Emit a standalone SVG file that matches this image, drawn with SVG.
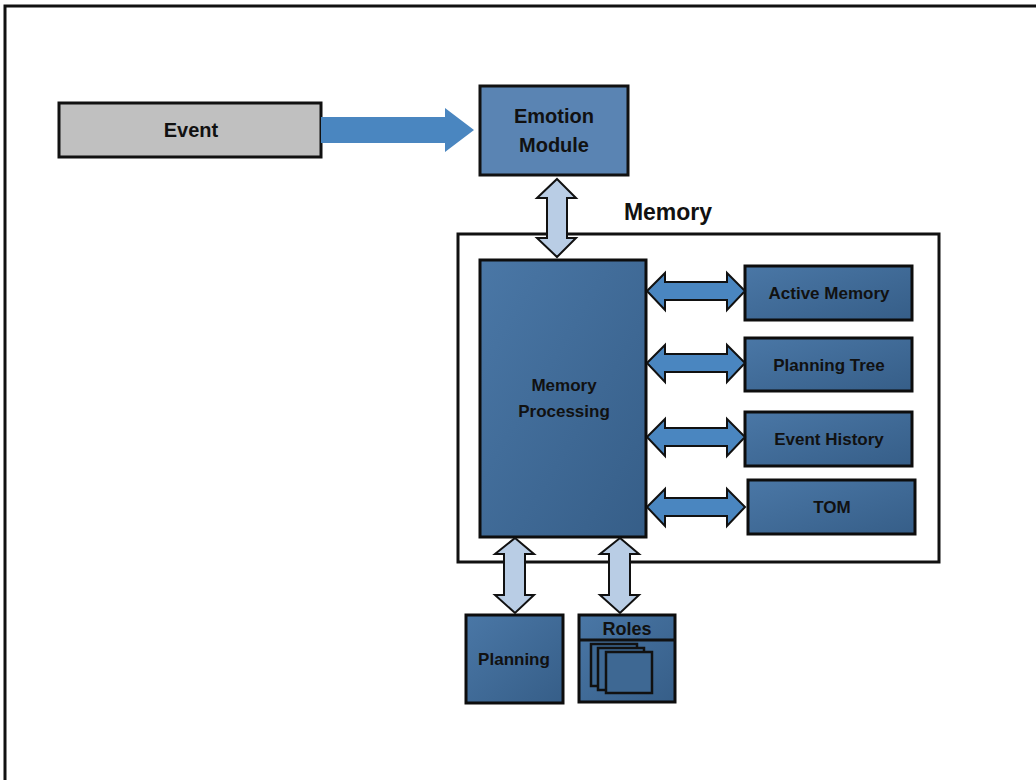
<svg xmlns="http://www.w3.org/2000/svg" width="1036" height="780" viewBox="0 0 1036 780">
<defs>
<linearGradient id="gb" x1="0" y1="0" x2="1" y2="1">
<stop offset="0" stop-color="#4a77a6"/>
<stop offset="1" stop-color="#365e88"/>
</linearGradient>
<style>
.box{fill:url(#gb);stroke:#0d0d0d;stroke-width:3}
.t{font-family:"Liberation Sans",Arial,sans-serif;font-weight:bold;fill:#111;text-anchor:middle}
.lt{fill:#b9cde5;stroke:#111;stroke-width:2}
.md{fill:#4a86c0;stroke:#111;stroke-width:2}
</style>
</defs>
<rect width="1036" height="780" fill="#fff"/>
<rect x="5" y="6" width="1050" height="800" fill="none" stroke="#111" stroke-width="3"/>

<g id="event">
<rect x="59" y="103" width="262" height="54" fill="#c0c0c0" stroke="#111" stroke-width="3"/>
<text class="t" x="191" y="137" font-size="20">Event</text>
</g>

<g id="emotion">
<rect x="480" y="86" width="148" height="89" fill="#5a84b3" stroke="#111" stroke-width="3"/>
<text class="t" x="554" y="123" font-size="20">Emotion</text>
<text class="t" x="554" y="152" font-size="20">Module</text>
</g>

<g id="memory">
<text class="t" x="668" y="220" font-size="23">Memory</text>
<rect x="458" y="234" width="481" height="328" fill="#fff" stroke="#111" stroke-width="3"/>
</g>

<g id="memory-processing">
<rect class="box" x="480" y="260" width="166" height="277"/>
<text class="t" x="564" y="391" font-size="17">Memory</text>
<text class="t" x="564" y="417" font-size="17">Processing</text>
</g>

<g id="active-memory">
<rect class="box" x="745" y="266" width="167" height="54"/>
<text class="t" x="829" y="299" font-size="17">Active Memory</text>
</g>
<g id="planning-tree">
<rect class="box" x="745" y="338" width="167" height="53"/>
<text class="t" x="829" y="371" font-size="17">Planning Tree</text>
</g>
<g id="event-history">
<rect class="box" x="745" y="412" width="167" height="54"/>
<text class="t" x="829" y="445" font-size="17">Event History</text>
</g>
<g id="tom">
<rect class="box" x="748" y="480" width="167" height="54"/>
<text class="t" x="832" y="513" font-size="17">TOM</text>
</g>

<g id="planning">
<rect class="box" x="466" y="615" width="97" height="88"/>
<text class="t" x="514" y="665" font-size="17">Planning</text>
</g>

<g id="roles">
<rect class="box" x="579" y="615" width="96" height="87"/>
<line x1="579" y1="640" x2="675" y2="640" stroke="#111" stroke-width="3"/>
<text class="t" x="627" y="635" font-size="18">Roles</text>
<rect x="591" y="644" width="46" height="42" fill="#3e6893" stroke="#111" stroke-width="2.5"/>
<rect x="598" y="648" width="46" height="42" fill="#3e6893" stroke="#111" stroke-width="2.5"/>
<rect x="606" y="652" width="46" height="41" fill="#3e6893" stroke="#111" stroke-width="2.5"/>
</g>

<g id="connectors">
<polygon points="321,117 445,117 445,108 474,130 445,152 445,143 321,143" fill="#4a86c0"/>
<polygon class="lt" points="557,179 576,198 567,198 567,238 576,238 557,257 537,238 547,238 547,198 537,198"/>
<polygon class="md" points="647,291 665,273 665,282 727,282 727,273 745,291 727,310 727,300 665,300 665,310"/>
<polygon class="md" points="647,363 665,345 665,354 727,354 727,345 745,363 727,382 727,372 665,372 665,382"/>
<polygon class="md" points="647,437 665,419 665,428 727,428 727,419 745,437 727,456 727,446 665,446 665,456"/>
<polygon class="md" points="647,507 665,489 665,498 727,498 727,489 745,507 727,526 727,516 665,516 665,526"/>
<polygon class="lt" points="515,538 534,554 525,554 525,595 534,595 515,613 495,595 504,595 504,554 495,554"/>
<polygon class="lt" points="620,538 639,554 630,554 630,595 639,595 620,613 600,595 609,595 609,554 600,554"/>
</g>
</svg>
